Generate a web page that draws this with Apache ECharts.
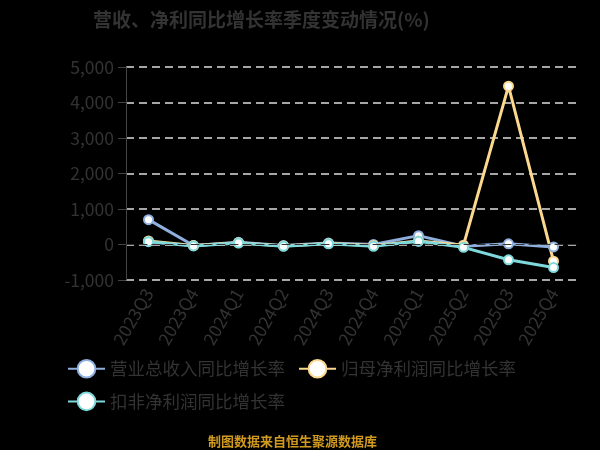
<!DOCTYPE html>
<html>
<head>
<meta charset="utf-8">
<script src="https://cdn.jsdelivr.net/npm/echarts@6/dist/echarts.min.js"></script>
<style>
  html, body { margin: 0; padding: 0; background: #000; }
  #chart { width: 600px; height: 450px; }
</style>
</head>
<body>
<div id="chart"></div>
<script>
const categories = ['2023Q3', '2023Q4', '2024Q1', '2024Q2', '2024Q3', '2024Q4', '2025Q1', '2025Q2', '2025Q3', '2025Q4'];
const revenueGrowth = [700, -30, 60, -30, 40, 0, 250, -50, 20, -70];
const netProfitGrowth = [100, -30, 50, -40, 30, -30, 100, -20, 4460, -470];
const deductedProfitGrowth = [80, -40, 40, -50, 20, -50, 90, -80, -430, -650];
const seriesNames = ['营业总收入同比增长率', '归母净利润同比增长率', '扣非净利润同比增长率'];

const fontFamily = '"Noto Sans CJK SC", "Noto Sans", sans-serif';

const makeSeries = (name, data, color) => ({
  name: name,
  type: 'line',
  data: data,
  symbol: 'circle',
  symbolSize: 9,
  lineStyle: { color: color, width: 3 },
  itemStyle: { color: '#fff', borderColor: color, borderWidth: 2 },
});

const chart = echarts.init(document.getElementById('chart'));
chart.setOption({
  backgroundColor: '#000',
  animation: false,
  textStyle: { fontFamily: fontFamily },
  title: [
    {
      text: '营收、净利同比增长率季度变动情况(%)',
      left: 88,
      top: 5,
      textStyle: { color: '#333', fontSize: 19, fontWeight: 'bold', fontFamily: fontFamily },
    },
    {
      text: '制图数据来自恒生聚源数据库',
      left: 203,
      top: 430,
      textStyle: { color: '#d09a20', fontSize: 13, fontWeight: 'bold', fontFamily: fontFamily },
    },
  ],
  legend: {
    data: seriesNames,
    left: 67,
    top: 359,
    width: 480,
    padding: 0,
    itemWidth: 37,
    itemHeight: 22,
    itemGap: 13,
    textStyle: { color: '#333', fontSize: 17.5, fontFamily: fontFamily },
  },
  grid: {
    left: 126,
    right: 24,
    top: 67,
    bottom: 170,
  },
  xAxis: {
    type: 'category',
    data: categories,
    z: 5,
    axisLine: { lineStyle: { color: '#333', type: [8, 5] } },
    axisTick: { lineStyle: { color: '#333' } },
    axisLabel: { color: '#333', fontSize: 17.5, rotate: 60, margin: 10, interval: 0 },
  },
  yAxis: {
    type: 'value',
    min: -1000,
    max: 5000,
    interval: 1000,
    axisLine: { show: true, lineStyle: { color: '#444' } },
    axisTick: { show: true, length: 8, lineStyle: { color: '#444' } },
    axisLabel: { color: '#333', fontSize: 17.5, margin: 12 },
    splitLine: { lineStyle: { color: '#ddd', type: [8, 5], width: 1.5 } },
  },
  series: [
    makeSeries(seriesNames[0], revenueGrowth, '#8fb0de'),
    makeSeries(seriesNames[1], netProfitGrowth, '#fcd88f'),
    makeSeries(seriesNames[2], deductedProfitGrowth, '#7fd9dc'),
  ],
});
</script>
</body>
</html>
